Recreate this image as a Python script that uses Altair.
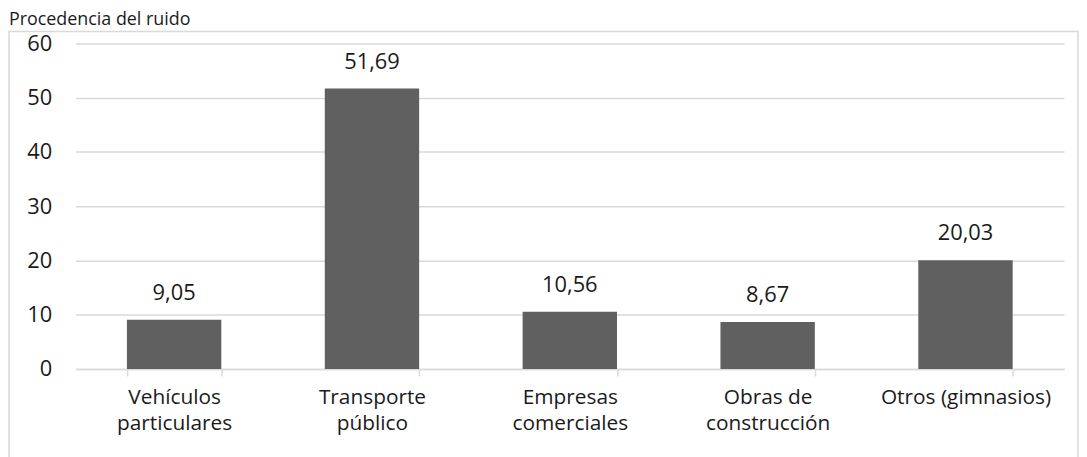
import altair as alt
import pandas as pd

categories = ["Vehículos particulares", "Transporte público", "Empresas comerciales",
              "Obras de construcción", "Otros (gimnasios)"]
label_lines = [["Vehículos", "particulares"], ["Transporte", "público"],
               ["Empresas", "comerciales"], ["Obras de", "construcción"],
               ["Otros (gimnasios)"]]
values = [9.05, 51.69, 10.56, 8.67, 20.03]
title_text = "Procedencia del ruido"

df = pd.DataFrame({
    "cat": categories,
    "val": values,
    "lab": [f"{v:.2f}".replace(".", ",") for v in values],
})

mapping = ",".join(
    "'" + c + "':[" + ",".join("'" + l + "'" for l in ls) + "]"
    for c, ls in zip(categories, label_lines)
)
label_expr = "{" + mapping + "}[datum.label]"

FONT = "Open Sans"
FS = 22
TXT = "#1a1a1a"
GRID = "#d9d9d9"

x = alt.X("cat:N", sort=categories, title=None,
          scale=alt.Scale(paddingInner=0.523, paddingOuter=0.26),
          axis=alt.Axis(labelAngle=0, labelExpr=label_expr, labelFont=FONT,
                        labelFontSize=21, labelColor=TXT, labelLineHeight=26,
                        labelPadding=11, tickBand="extent", tickSize=7,
                        tickColor=GRID, domainColor=GRID, domainWidth=1.5,
                        tickWidth=1.5, grid=False, labelBaseline="top"))
y = alt.Y("val:Q", title=None,
          scale=alt.Scale(domain=[0, 60], nice=False),
          axis=alt.Axis(values=[0, 10, 20, 30, 40, 50, 60], labelFont=FONT,
                        labelFontSize=FS, labelColor=TXT, ticks=False,
                        domain=False, gridColor=GRID, gridWidth=1.5,
                        labelPadding=24))

bars = alt.Chart(df).mark_bar(color="#606060").encode(x=x, y=y)
text = alt.Chart(df).mark_text(font=FONT, fontSize=FS, color=TXT,
                               baseline="alphabetic", dy=-20).encode(
    x=alt.X("cat:N", sort=categories), y="val:Q", text="lab:N")

single = pd.DataFrame({"t": [title_text]})
frame = alt.Chart(single).mark_rect(
    fillOpacity=0, stroke=GRID, strokeWidth=1.5).encode(
    x=alt.value(-67), x2=alt.value(1010), y=alt.value(-12), y2=alt.value(440))
title = alt.Chart(single).mark_text(
    font=FONT, fontSize=18, color=TXT, align="left",
    baseline="alphabetic").encode(
    x=alt.value(-67), y=alt.value(-19), text="t:N")

chart = alt.layer(frame, bars, text, title).properties(
    width=996, height=328,
    autosize=alt.AutoSizeParams(type="none"),
    padding={"left": 68, "top": 34, "right": 15, "bottom": 87},
).configure_view(stroke=None)

chart.save("out.html", embed_options={"renderer": "svg", "actions": False})
